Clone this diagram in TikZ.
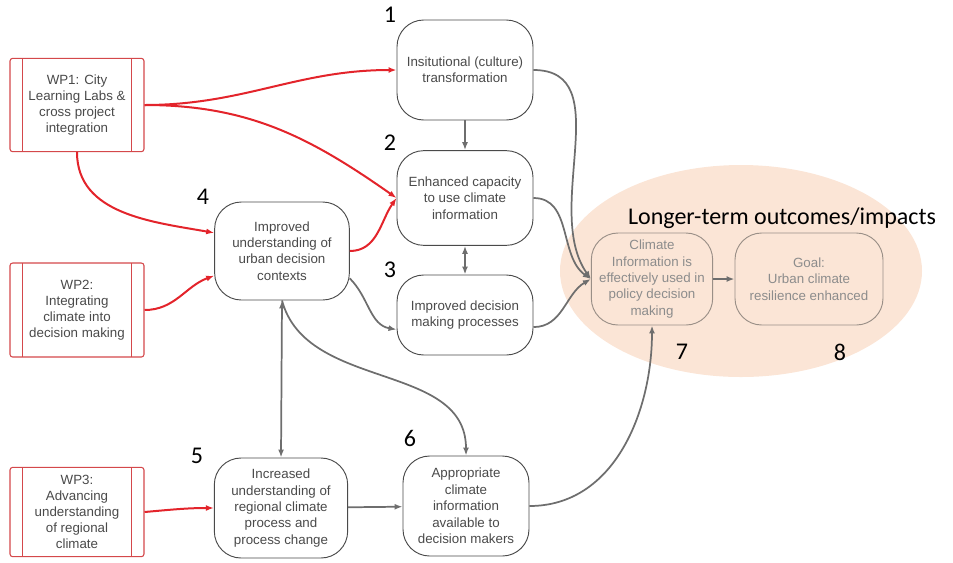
\documentclass[tikz,border=0pt]{standalone}
\usepackage{fontspec}
\setmainfont{Liberation Sans}
\newfontfamily\calfont{Carlito}
\usetikzlibrary{arrows.meta}
\definecolor{wpred}{HTML}{D4484B}
\definecolor{arrowred}{HTML}{E3242B}
\definecolor{linegray}{HTML}{6E6E6E}
\definecolor{textgray}{HTML}{4A4A4A}
\definecolor{peach}{HTML}{FBE5D6}
\definecolor{fadegray}{HTML}{8C8C8C}
\definecolor{fadeline}{HTML}{9A8F87}

\begin{document}
\begin{tikzpicture}[x=0.75pt,y=-0.75pt,>={Latex[length=6pt,width=4.5pt]},
    outcome/.style={draw=textgray,line width=0.7pt,rounded corners=20pt,fill=white,
      align=center,text=textgray,font=\fontsize{10}{12.3}\selectfont,inner sep=2pt},
    faded/.style={outcome,draw=fadeline,fill=none,text=fadegray},
    wpbox/.style={draw=wpred,line width=0.8pt,rounded corners=2pt,fill=white,align=center,
      text=textgray,font=\fontsize{10}{12}\selectfont,minimum width=100.5pt,
      path picture={\draw[wpred,line width=0.8pt]
        ([xshift=9.5pt]path picture bounding box.north west) -- ([xshift=9.5pt]path picture bounding box.south west)
        ([xshift=-9.5pt]path picture bounding box.north east) -- ([xshift=-9.5pt]path picture bounding box.south east);}},
    num/.style={font=\calfont\fontsize{18}{20}\selectfont,inner sep=0pt},
    redarrow/.style={->,draw=arrowred,line width=1.5pt},
    grayarrow/.style={->,draw=linegray,line width=1.3pt}]
    \useasboundingbox (0,0) rectangle (953,562);

    % longer-term area
    \fill[peach] (741,271) ellipse [x radius=135.75pt, y radius=79.5pt];
    \node[num] (title) at (782,218) {Longer-term outcomes/impacts};

    % work packages
    \node[wpbox,minimum height=70pt] (wp1) at (77,105) {WP1: City\\Learning Labs \&\\cross project\\integration};
    \node[wpbox,minimum height=70.5pt] (wp2) at (77,310) {WP2:\\Integrating\\climate into\\decision making};
    \node[wpbox,minimum height=67pt] (wp3) at (77,512) {WP3:\\Advancing\\understanding\\of regional\\climate};

    % outcomes
    \node[outcome,minimum width=102pt,minimum height=75pt] (n1) at (465,70) {Insitutional (culture)\\transformation};
    \node[outcome,minimum width=102pt,minimum height=71pt] (n2) at (465,198) {Enhanced capacity\\to use climate\\information};
    \node[outcome,minimum width=102pt,minimum height=60pt] (n3) at (465,315) {Improved decision\\making processes};
    \node[outcome,minimum width=101pt,minimum height=73.5pt] (n4) at (282,251) {Improved\\understanding of\\urban decision\\contexts};
    \node[outcome,minimum width=100pt,minimum height=75pt] (n5) at (281,508) {Increased\\understanding of\\regional climate\\process and\\process change};
    \node[outcome,minimum width=94.5pt,minimum height=75pt] (n6) at (466,506) {Appropriate\\climate\\information\\available to\\decision makers};
    \node[faded,minimum width=91pt,minimum height=69pt] (n7) at (652,279) {Climate\\Information is\\effectively used in\\policy decision\\making};
    \node[faded,minimum width=111pt,minimum height=69pt] (n8) at (809,279) {Goal:\\Urban climate\\resilience enhanced};

    \node[num] (l1) at (390,15) {1};
    \node[num] (l2) at (390,143) {2};
    \node[num] (l3) at (390,270) {3};
    \node[num] (l4) at (203,197) {4};
    \node[num] (l5) at (197,456) {5};
    \node[num] (l6) at (410,438) {6};
    \node[num] (l7) at (682,352) {7};
    \node[num] (l8) at (840,352) {8};

    % red links
    \draw[redarrow] (wp1.east) to[out=0,in=180] (n1.west);
    \draw[redarrow] (wp1.east) to[out=0,in=145] (n2.west);
    \draw[redarrow] (wp1.south) to[out=-90,in=170] (n4.165);
    \draw[redarrow] (wp2.east) to[out=0,in=200] (n4.200);
    \draw[redarrow] (wp3.east) to[out=5,in=180] (n5.west);
    \draw[redarrow] (n4.east) to[out=0,in=235] (n2.west);

    % gray links
    \draw[grayarrow] (n1) -- (n2);
    \draw[grayarrow,<->] (n2) -- (n3);
    \draw[grayarrow] (n4.-22) to[out=-45,in=170] (n3.192);
    \draw[grayarrow,<->] (n4.south) -- (n5.north);
    \draw[grayarrow] (n4.south) to[out=-75,in=90] (n6.north);
    \draw[grayarrow] (n5) -- (n6);
    \draw[grayarrow] (n6.east) to[out=0,in=-90] (n7.south);
    \draw[grayarrow] (n1.east) to[out=0,in=125] (n7.west);
    \draw[grayarrow] (n2.east) to[out=0,in=145] (n7.west);
    \draw[grayarrow] (n3.-10) to[out=0,in=210] (n7.west);
    \draw[grayarrow] (n7) -- (n8);
\end{tikzpicture}
\end{document}
